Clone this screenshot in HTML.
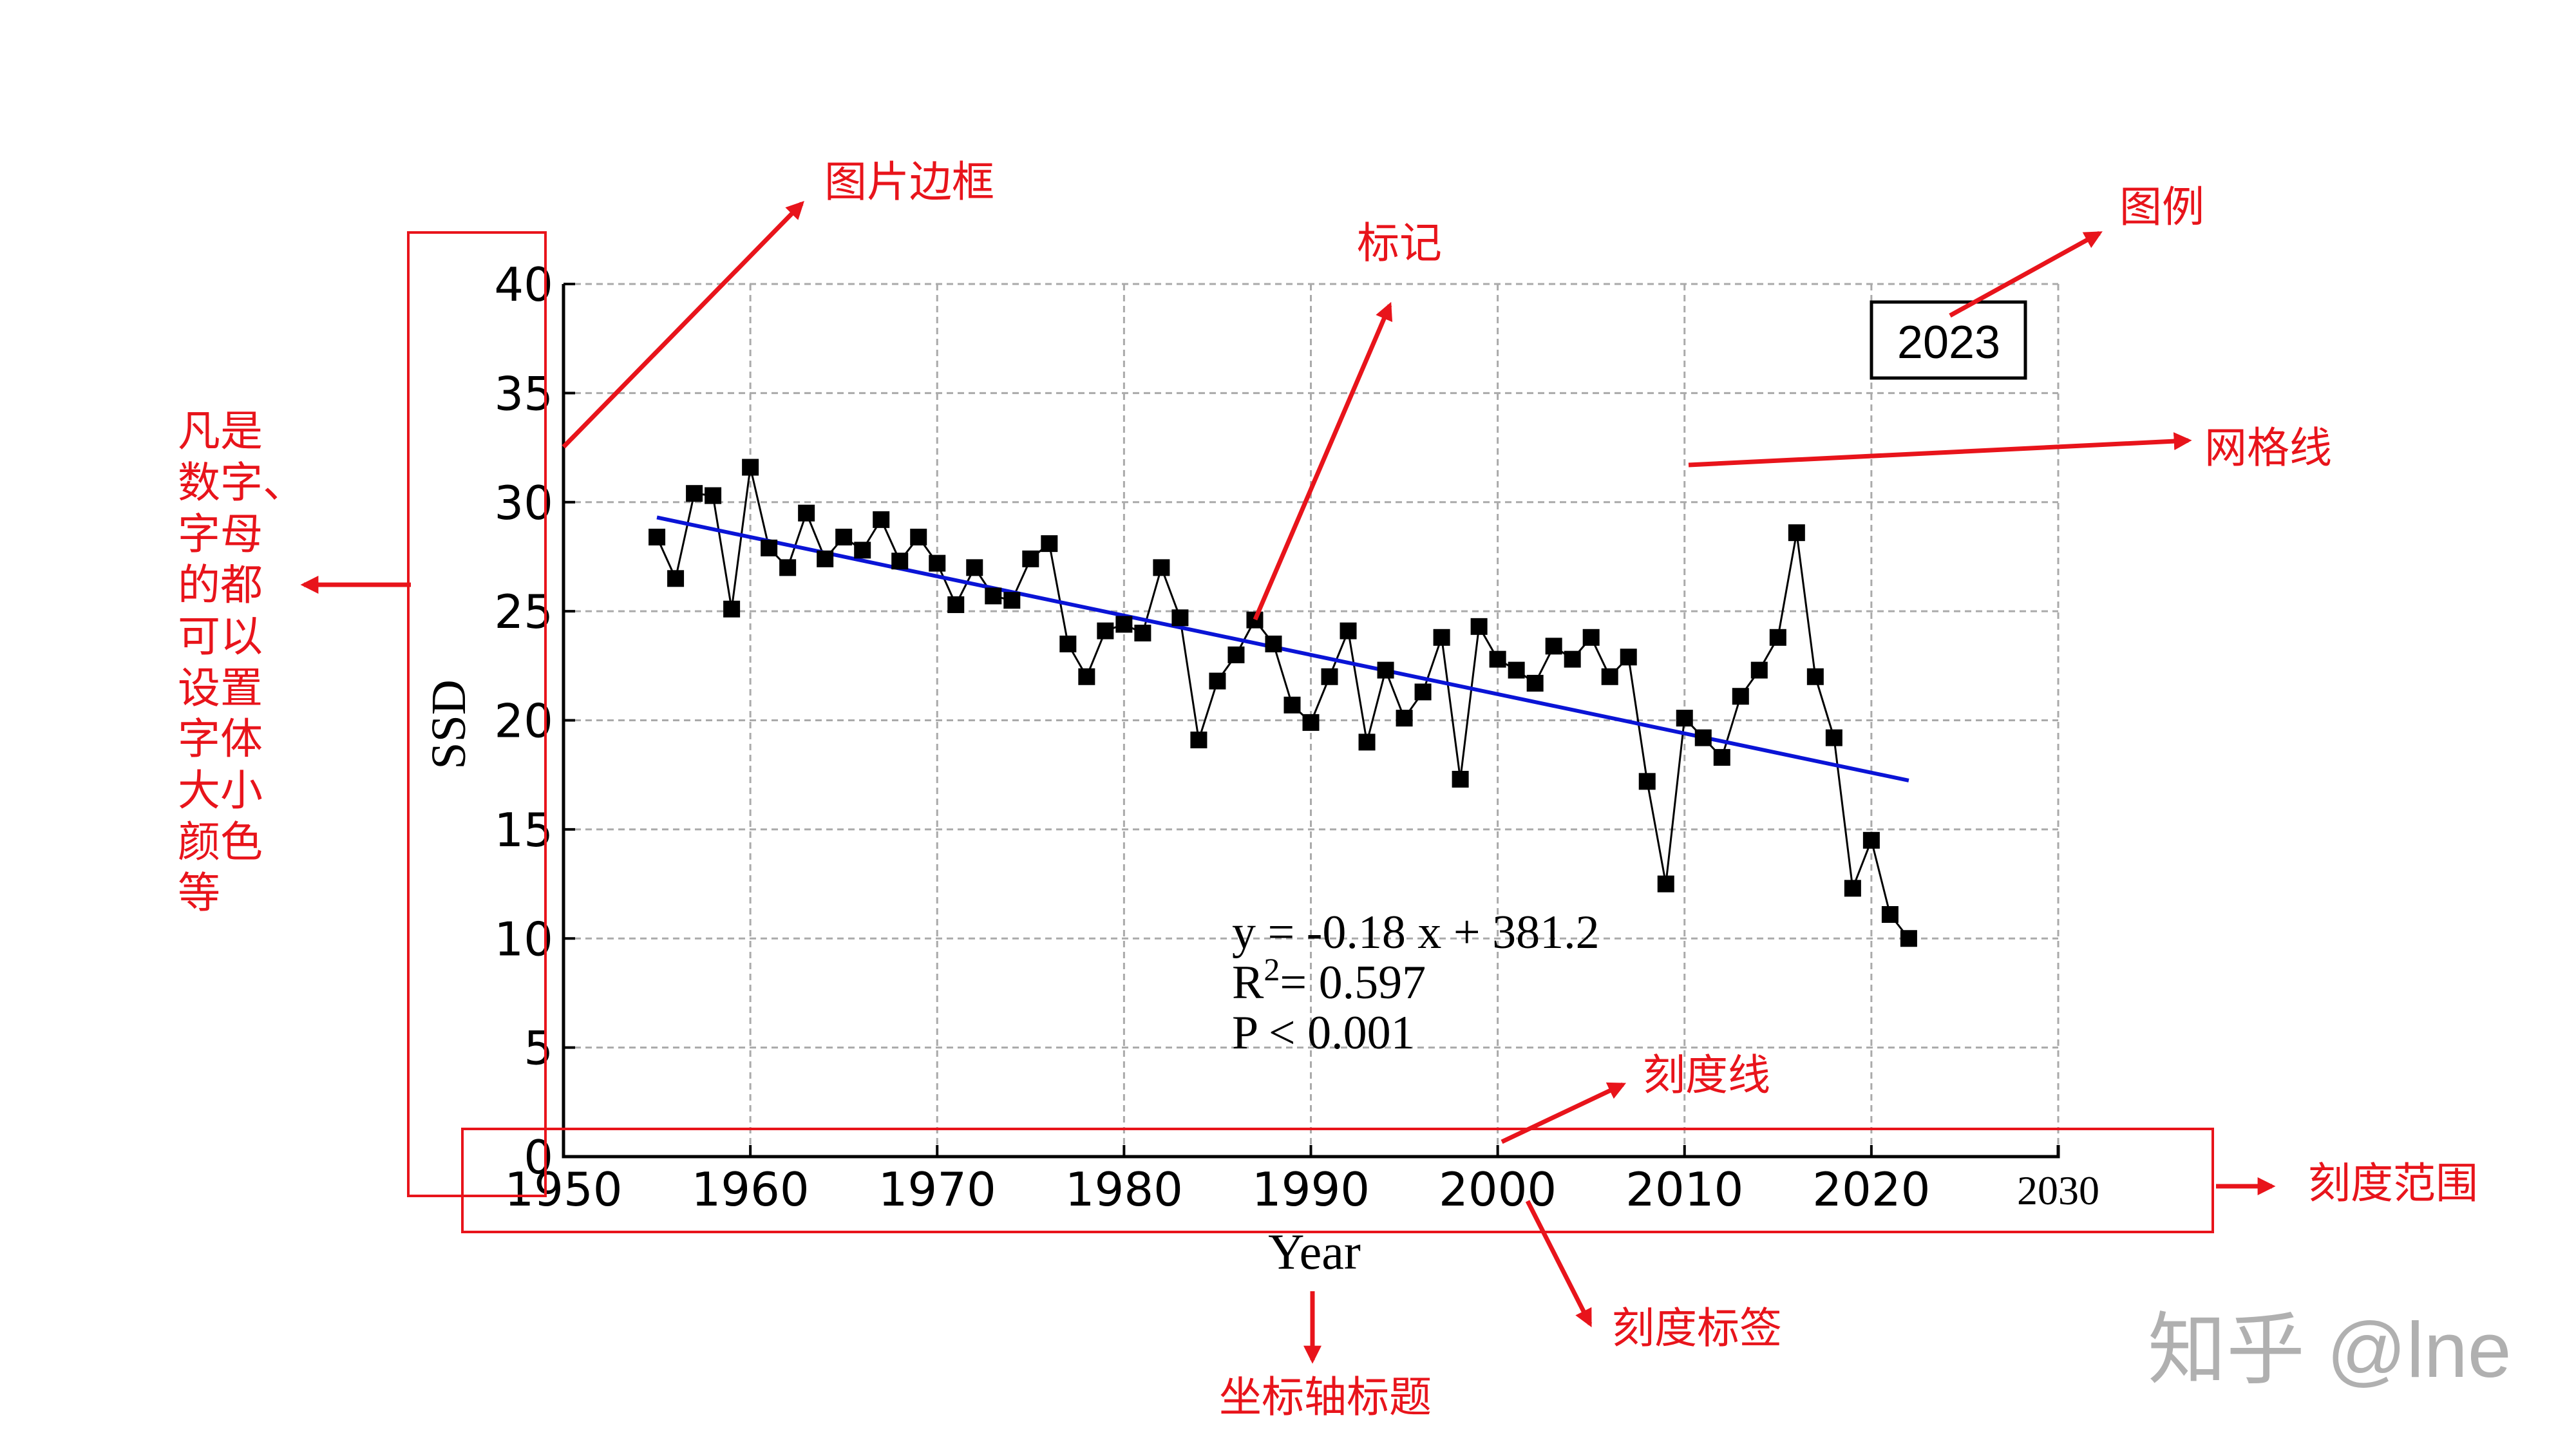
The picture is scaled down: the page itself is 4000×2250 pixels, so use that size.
<!DOCTYPE html>
<html><head><meta charset="utf-8">
<style>
html,body{margin:0;padding:0;background:#fff;}
svg{display:block;}
.ann{font-family:"Liberation Sans","Noto Sans CJK SC",sans-serif;fill:#e8141b;font-size:66px;}
.tk{font-family:"DejaVu Sans",sans-serif;font-size:72px;fill:#000;}
.srf{font-family:"Liberation Serif",serif;fill:#000;}
</style></head>
<body>
<svg id="chart" width="4000" height="2250" viewBox="0 0 4000 2250" xmlns="http://www.w3.org/2000/svg">
<defs>
<marker id="ah" viewBox="0 0 10 10" refX="8" refY="5" markerWidth="4" markerHeight="4" orient="auto-start-reverse"><path d="M0,0 L10,5 L0,10 z" fill="#e8141b"/></marker>
</defs>
<g id="grid"></g>
<g id="axes"></g>
<g id="series"></g>
<g>
<text class="srf" x="1913" y="1472" font-size="74">y = -0.18 x + 381.2</text>
<text class="srf" x="1913" y="1550" font-size="74">R<tspan dy="-28" font-size="50">2</tspan><tspan dy="28">= 0.597</tspan></text>
<text class="srf" x="1913" y="1628" font-size="74">P &lt; 0.001</text>
</g>
<g>
<rect x="2906" y="469" width="239" height="118" fill="#fff" stroke="#000" stroke-width="5"/>
<text x="3026" y="556" text-anchor="middle" font-family="Liberation Sans, sans-serif" font-size="72">2023</text>
</g>
<text class="srf" font-size="76" transform="translate(722,1125) rotate(-90)" text-anchor="middle">SSD</text>
<text class="srf" font-size="78" x="2041" y="1970" text-anchor="middle">Year</text>

<g stroke="#e8141b" fill="none">
<rect x="634" y="361" width="213" height="1496" stroke-width="4"/>
<rect x="718" y="1753" width="2718" height="160" stroke-width="4"/>
<line x1="875" y1="694" x2="1245" y2="316" stroke-width="7" marker-end="url(#ah)"/>
<line x1="1949" y1="962" x2="2158" y2="474" stroke-width="7" marker-end="url(#ah)"/>
<line x1="3028" y1="490" x2="3260" y2="362" stroke-width="7" marker-end="url(#ah)"/>
<line x1="2622" y1="722" x2="3398" y2="684" stroke-width="7" marker-end="url(#ah)"/>
<line x1="638" y1="908" x2="472" y2="908" stroke-width="7" marker-end="url(#ah)"/>
<line x1="2332" y1="1773" x2="2520" y2="1684" stroke-width="7" marker-end="url(#ah)"/>
<line x1="3441" y1="1842" x2="3528" y2="1842" stroke-width="7" marker-end="url(#ah)"/>
<line x1="2372" y1="1865" x2="2469" y2="2056" stroke-width="7" marker-end="url(#ah)"/>
<line x1="2038" y1="2005" x2="2038" y2="2112" stroke-width="7" marker-end="url(#ah)"/>
</g>
<g>
<text class="ann" x="1280" y="305">图片边框</text>
<text class="ann" x="2107" y="400">标记</text>
<text class="ann" x="3291" y="344">图例</text>
<text class="ann" x="3423" y="718">网格线</text>
<text class="ann" x="2551" y="1692">刻度线</text>
<text class="ann" x="3584" y="1860">刻度范围</text>
<text class="ann" x="2503" y="2085">刻度标签</text>
<text class="ann" x="1893" y="2192">坐标轴标题</text>
<text class="ann" x="276" y="692">凡是</text>
<text class="ann" x="276" y="772">数字、</text>
<text class="ann" x="276" y="852">字母</text>
<text class="ann" x="276" y="931">的都</text>
<text class="ann" x="276" y="1011">可以</text>
<text class="ann" x="276" y="1091">设置</text>
<text class="ann" x="276" y="1170">字体</text>
<text class="ann" x="276" y="1250">大小</text>
<text class="ann" x="276" y="1330">颜色</text>
<text class="ann" x="276" y="1409">等</text>
</g>
<text x="3335" y="2138" font-family="Liberation Sans, Noto Sans CJK SC, sans-serif" font-size="122" fill="#b0b0b0">知乎 @lne</text>
</svg>
<script>
const years=[1955,1956,1957,1958,1959,1960,1961,1962,1963,1964,1965,1966,1967,1968,1969,1970,1971,1972,1973,1974,1975,1976,1977,1978,1979,1980,1981,1982,1983,1984,1985,1986,1987,1988,1989,1990,1991,1992,1993,1994,1995,1996,1997,1998,1999,2000,2001,2002,2003,2004,2005,2006,2007,2008,2009,2010,2011,2012,2013,2014,2015,2016,2017,2018,2019,2020,2021,2022];
const ssd=[28.4,26.5,30.4,30.3,25.1,31.6,27.9,27.0,29.5,27.4,28.4,27.8,29.2,27.3,28.4,27.2,25.3,27.0,25.7,25.5,27.4,28.1,23.5,22.0,24.1,24.4,24.0,27.0,24.7,19.1,21.8,23.0,24.6,23.5,20.7,19.9,22.0,24.1,19.0,22.3,20.1,21.3,23.8,17.3,24.3,22.8,22.3,21.7,23.4,22.8,23.8,22.0,22.9,17.2,12.5,20.1,19.2,18.3,21.1,22.3,23.8,28.6,22.0,19.2,12.3,14.5,11.1,10.0];
const xTicks=[1950,1960,1970,1980,1990,2000,2010,2020,2030];
const yTicks=[0,5,10,15,20,25,30,35,40];
const slope=-0.18, intercept=381.2;
const NS='http://www.w3.org/2000/svg';
const X0=875,X1=3196,Y0=1796,Y1=441;
const sx=v=>X0+(v-1950)/(2030-1950)*(X1-X0);
const sy=v=>Y0-(v-0)/(40-0)*(Y0-Y1);
function mk(tag,attrs,parent){const e=document.createElementNS(NS,tag);for(const k in attrs)e.setAttribute(k,attrs[k]);parent.appendChild(e);return e;}
const grid=document.getElementById('grid'),axes=document.getElementById('axes'),ser=document.getElementById('series');
xTicks.forEach(t=>{
  if(t>1950){const g=mk('line',{x1:sx(t),x2:sx(t),y1:Y1,y2:Y0,stroke:'#aaa','stroke-width':3,'stroke-dasharray':'10 7'},grid);
  
  }
  const tk=mk('line',{x1:sx(t),x2:sx(t),y1:Y0,y2:Y0-18,stroke:'#000','stroke-width':4},axes);
  
  
  const lb=mk('text',{x:sx(t),y:1872,'text-anchor':'middle',class:t===2030?'srf':'tk'},axes);
  if(t===2030){lb.setAttribute('font-size','64');lb.setAttribute('y','1870');}
  lb.textContent=t;
  
  
});
yTicks.forEach(t=>{
  if(t>0){const g=mk('line',{x1:X0,x2:X1,y1:sy(t),y2:sy(t),stroke:'#aaa','stroke-width':3,'stroke-dasharray':'10 7'},grid);
  
  }
  const tk=mk('line',{x1:X0,x2:X0+18,y1:sy(t),y2:sy(t),stroke:'#000','stroke-width':4},axes);
  
  
  const lb=mk('text',{x:X0-16,y:sy(t)+26,'text-anchor':'end',class:'tk'},axes);
  lb.textContent=t;
  
  
});
const ax=mk('path',{d:`M${X0},${Y1} L${X0},${Y0} L${X1},${Y0} L${X1},${Y0-18}`,stroke:'#000','stroke-width':5,fill:'none'},axes);


const pl=mk('polyline',{points:years.map((y,i)=>sx(y)+','+sy(ssd[i])).join(' '),fill:'none',stroke:'#000','stroke-width':3},ser);


const ya=years[0],yb=years[years.length-1];
const tr=mk('line',{x1:sx(ya),y1:sy(slope*ya+intercept),x2:sx(yb),y2:sy(slope*yb+intercept),stroke:'#0a14d6','stroke-width':6},ser);


years.forEach((y,i)=>{
  const m=mk('rect',{x:sx(y)-13,y:sy(ssd[i])-13,width:26,height:26,fill:'#000'},ser);
  
  
});
</script>
</body></html>
